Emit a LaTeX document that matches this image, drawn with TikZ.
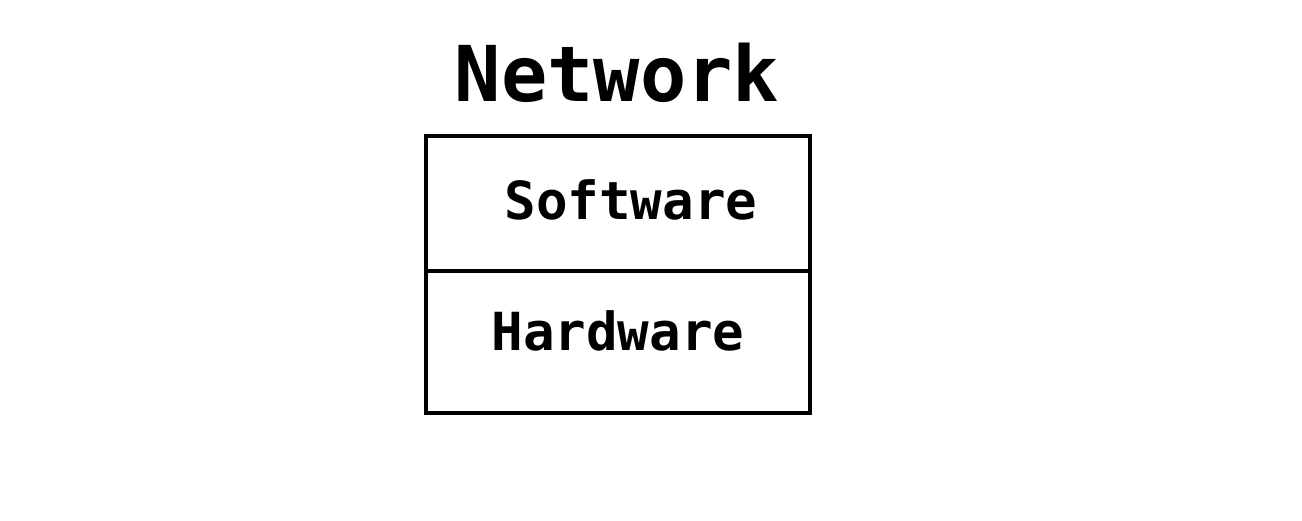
\documentclass[tikz,border=0pt]{standalone}
\usepackage{fontspec}
\setmonofont{DejaVu Sans Mono}
\begin{document}
\begin{tikzpicture}[x=1pt,y=-1pt,
  lbl/.style={font=\ttfamily\bfseries\fontsize{52.5}{52.5}\selectfont, inner sep=0pt, anchor=base},
  boxline/.style={line width=3.5pt, draw=black}]
\useasboundingbox (0,0) rectangle (1302,521);
\fill[white] (0,0) rectangle (1302,521);
\node[font=\ttfamily\bfseries\fontsize{77}{77}\selectfont, inner sep=0pt, anchor=base] (net) at (617,102) {Network};
\draw[boxline] (426,136) rectangle (810,413);
\coordinate (dl) at (426,271);
\coordinate (dr) at (810,271);
\draw[boxline] (dl) -- (dr);
\node[lbl] (sw) at (631,220) {Software};
\node[lbl] (hw) at (618,351) {Hardware};
\end{tikzpicture}
\end{document}
